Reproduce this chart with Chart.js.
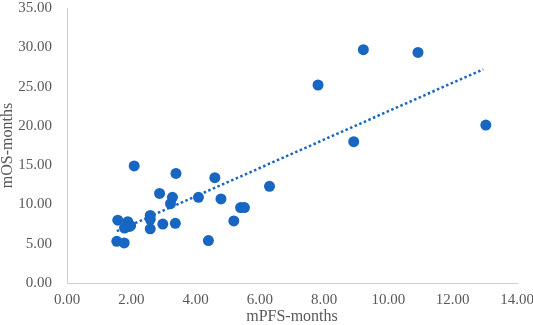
<!DOCTYPE html>
<html>
<head>
<meta charset="utf-8">
<script src="https://cdn.jsdelivr.net/npm/chart.js@4"></script>
<style>
  html, body { margin: 0; padding: 0; background: #ffffff; }
  #wrap { width: 533px; height: 325px; position: relative; }
</style>
</head>
<body>
<div id="wrap"><canvas id="scatterChart"></canvas></div>
<script>
    // ---------------- Data ---------------------------------------------------
    const mPFS = [ 1.55, 1.78, 1.58, 1.89, 1.79, 1.94, 1.98, 2.09,
                   2.59, 2.59, 2.59, 2.88, 2.98, 3.28, 3.22, 3.37,
                   3.39, 4.09, 4.40, 4.60, 4.79, 5.19, 5.40, 5.52,
                   6.30, 7.81, 9.22, 10.92, 8.92, 13.03 ] ;
    const mOS  = [ 5.3, 5.1, 8.0, 7.8, 7.0, 7.2, 7.3, 14.9,
                   8.6, 8.1, 6.9, 11.4, 7.5, 10.9, 10.1, 7.6,
                   13.95, 10.9, 5.4, 13.4, 10.7, 7.9, 9.6, 9.6,
                   12.3, 25.2, 29.7, 29.35, 17.98, 20.1 ] ;

    // trend line end points
    const trendX = [ 1.55, 12.95 ] ;
    const trendY = [ 6.6, 27.2 ] ;

    const xTicks = [ 0, 2, 4, 6, 8, 10, 12, 14 ] ;
    const yTicks = [ 0, 5, 10, 15, 20, 25, 30, 35 ] ;

    const X_TITLE = "mPFS-months" ;
    const Y_TITLE = "mOS-months" ;

    // ---------------- Styles -------------------------------------------------
    const POINT_COLOR = '#1766C2' ;
    const TEXT_COLOR  = '#595959' ;
    const AXIS_COLOR  = '#d0d0d0' ;
    const FONT_FAMILY = "'Liberation Serif', 'Times New Roman', serif" ;

    function toPoints( xs, ys ) {
        var pts = [] ;
        for( var i=0; i<xs.length; i++ ) {
            pts.push( { x: xs[i], y: ys[i] } ) ;
        }
        return pts ;
    }

    function getScale( ticks, title, tickPad, fitFn ) {
        return {
            type : 'linear',
            min  : ticks[0],
            max  : ticks[ ticks.length-1 ],
            afterBuildTicks : function( axis ) {
                axis.ticks = ticks.map( function( v ) { return { value: v } ; } ) ;
            },
            afterFit : fitFn,
            grid   : { display: false, drawTicks: false },
            border : { display: true, color: AXIS_COLOR, width: 1 },
            ticks  : {
                color : TEXT_COLOR,
                padding : tickPad,
                font  : { family: FONT_FAMILY, size: 15 },
                callback : function( value ) { return Number( value ).toFixed( 2 ) ; }
            },
            title : {
                display : true,
                text    : title,
                color   : TEXT_COLOR,
                padding : 0,
                font    : { family: FONT_FAMILY, size: 16, lineHeight: 1.0 }
            }
        } ;
    }

    // fixed axis sizes, so the plot area sits where the original one does
    function fitX( axis ) {
        axis.height = 42 ;
        axis.paddingLeft = 0 ;
        axis.paddingRight = 16 ;
    }

    function fitY( axis ) {
        axis.width = 67 ;
        axis.paddingTop = 8 ;
        axis.paddingBottom = 0 ;
    }

    var canvas = document.getElementById( 'scatterChart' ) ;
    new Chart( canvas, {
        type : 'scatter',
        data : {
            datasets : [
                {
                    label : 'trend',
                    type  : 'line',
                    data  : toPoints( trendX, trendY ),
                    borderColor : POINT_COLOR,
                    borderWidth : 2.5,
                    borderDash  : [ 2.5, 2.5 ],
                    pointRadius : 0,
                    fill : false,
                    order : 2
                },
                {
                    label : 'patients',
                    data  : toPoints( mPFS, mOS ),
                    backgroundColor : POINT_COLOR,
                    borderColor     : POINT_COLOR,
                    borderWidth     : 0,
                    pointRadius     : 5.5,
                    order : 1
                }
            ]
        },
        options : {
            responsive : true,
            maintainAspectRatio : false,
            animation : false,
            layout : {
                autoPadding : false,
                padding : 0
            },
            plugins : {
                legend  : { display: false },
                tooltip : { enabled: false }
            },
            scales : {
                x : getScale( xTicks, X_TITLE, 8, fitX ),
                y : getScale( yTicks, Y_TITLE, 15, fitY )
            }
        }
    } ) ;
</script>
</body>
</html>
